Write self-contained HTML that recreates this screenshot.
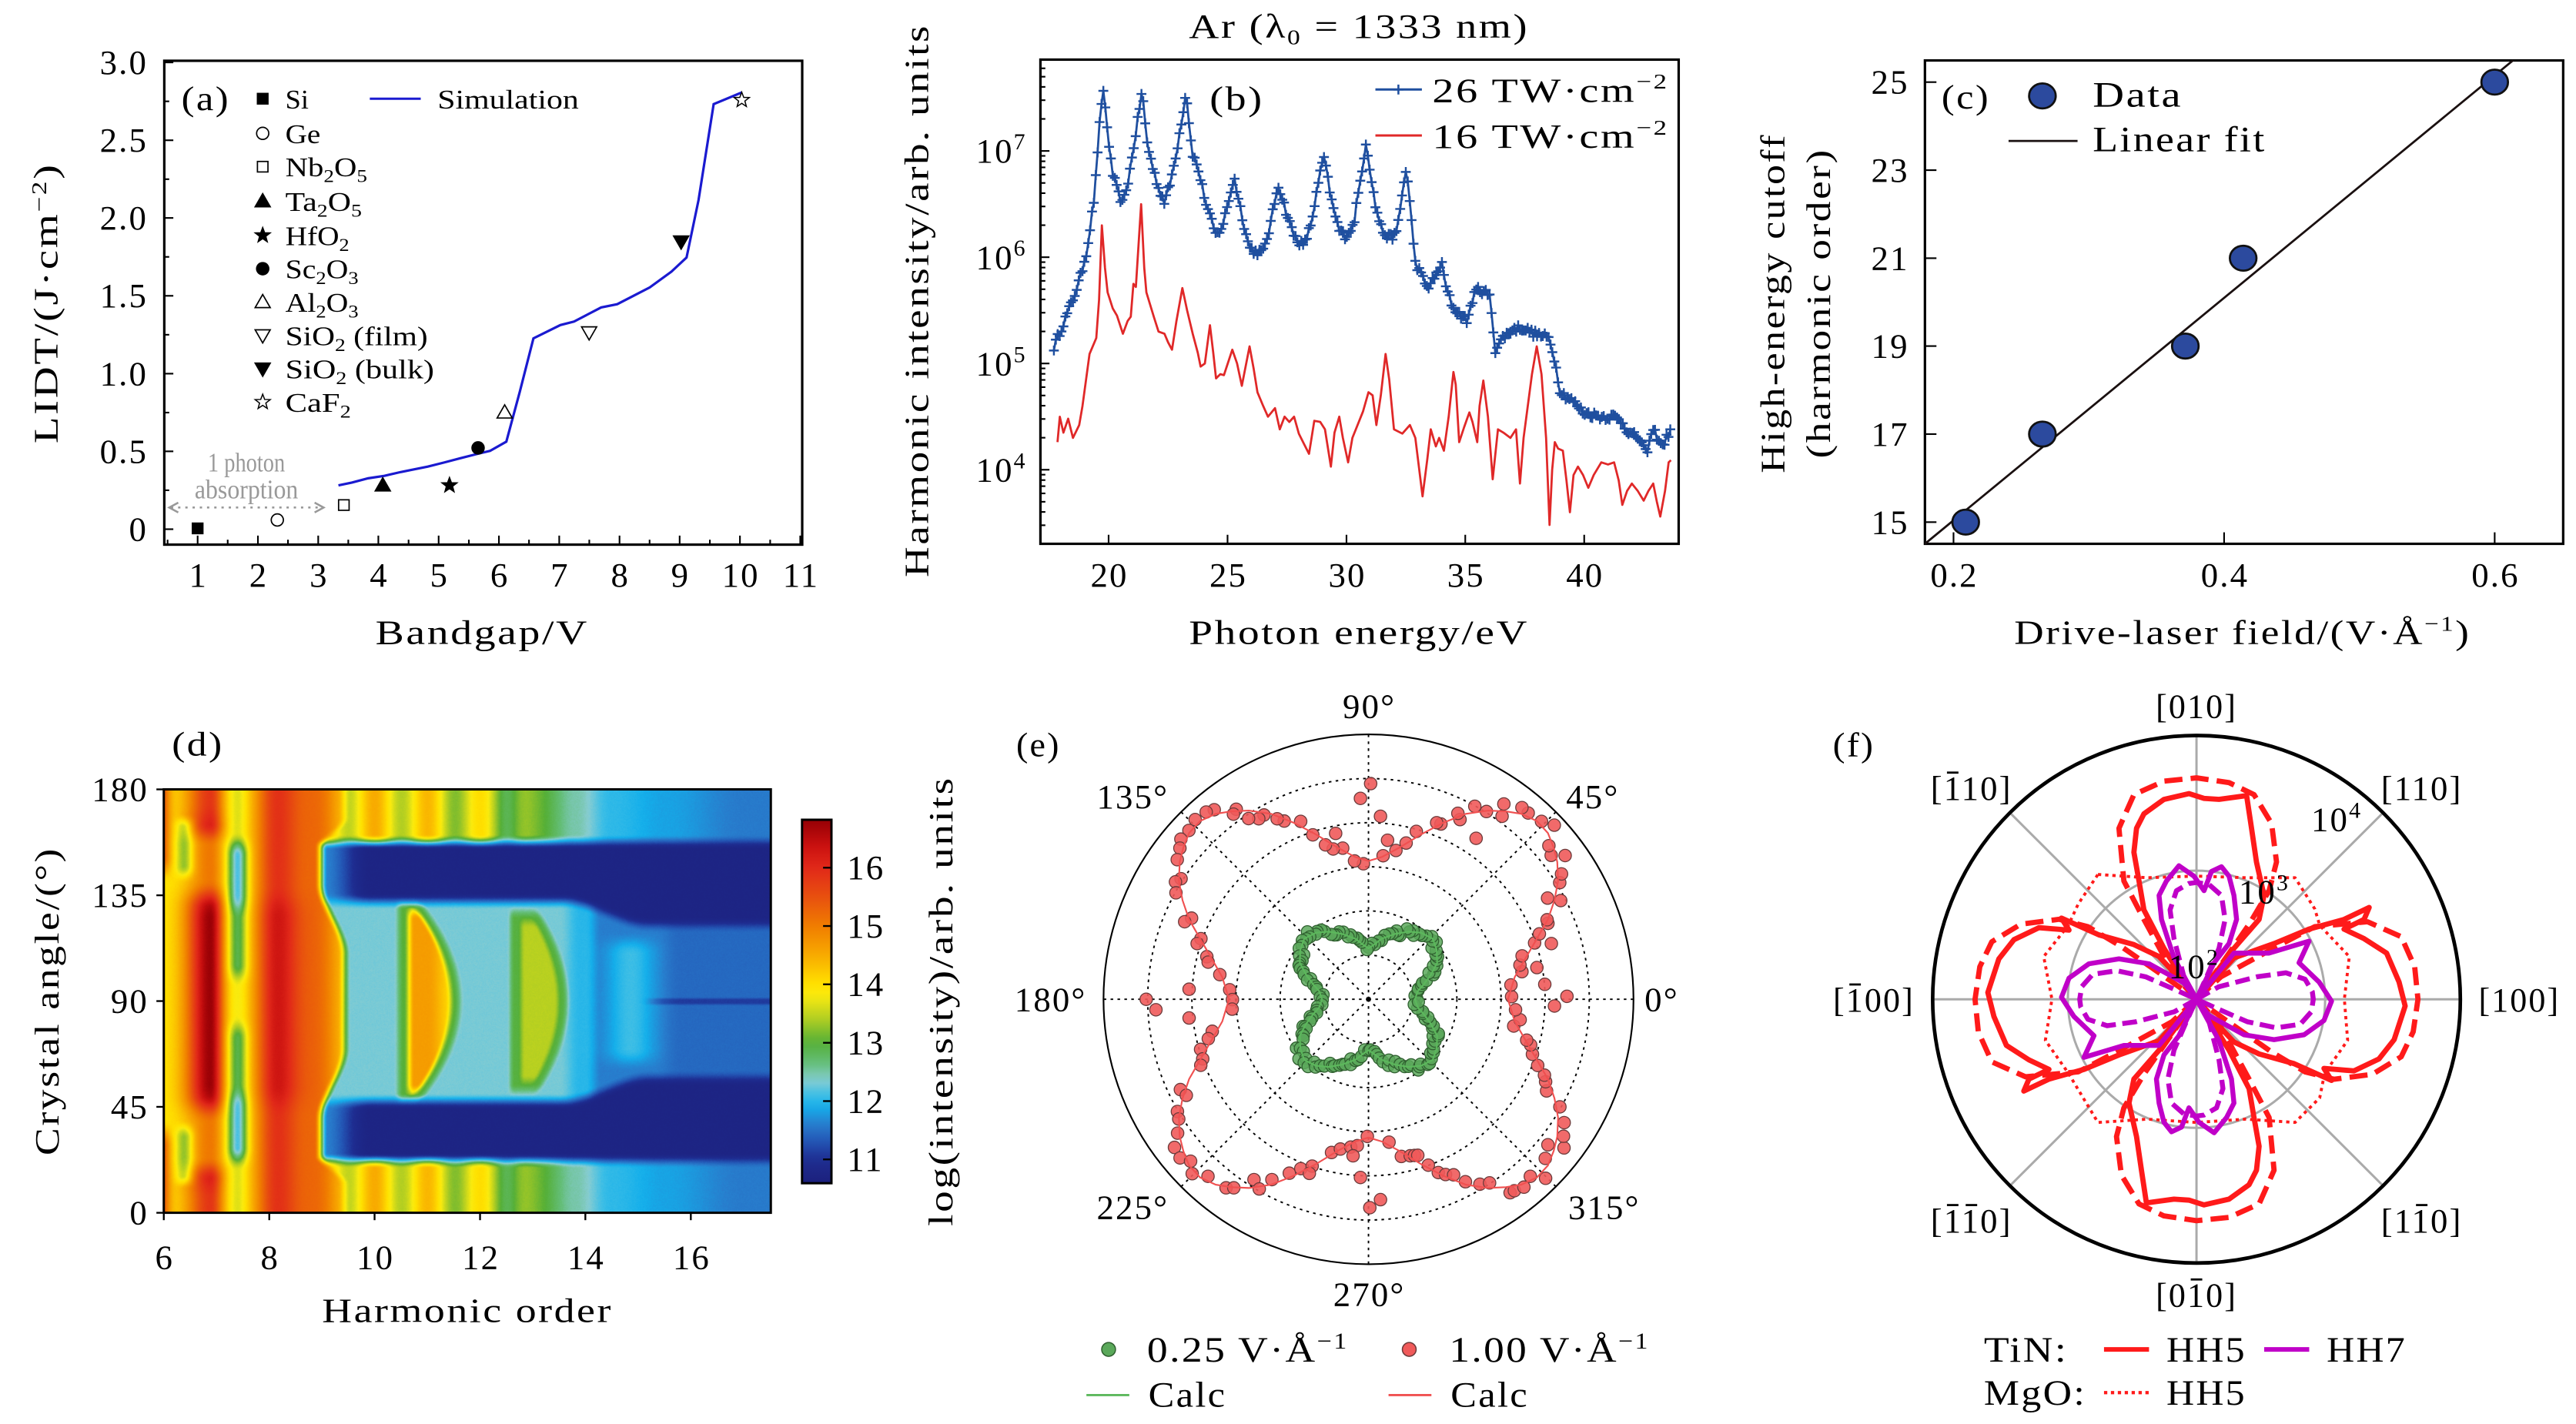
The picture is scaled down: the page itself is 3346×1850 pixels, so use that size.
<!DOCTYPE html>
<html><head><meta charset="utf-8"><style>
html,body{margin:0;padding:0;background:#fff;}
body{width:3346px;height:1850px;overflow:hidden;position:relative;}
svg text{font-family:"Liberation Serif","DejaVu Serif",serif;font-size:21px;letter-spacing:1px;fill:#000;}
svg .s15{font-size:16.5px;letter-spacing:0;}
svg .s20{font-size:21px;}
svg .s22{font-size:22px;}
</style></head><body>
<canvas id="hm" width="789" height="550" style="position:absolute;left:213px;top:1026px;width:788.5px;height:550px;"></canvas>
<svg id="sv" width="3346" height="1850" viewBox="0 0 1568 867" preserveAspectRatio="none" style="position:absolute;left:0;top:0;">
<defs><linearGradient id="cbg" x1="0" y1="0" x2="0" y2="1"></linearGradient></defs>

<!-- ========== Panel (a) ========== -->
<rect x="100" y="37" width="388.3" height="294.6" fill="none" stroke="#000" stroke-width="1.5"/>
<g text-anchor="end">
<text x="90" y="45">3.0</text><text x="90" y="92.4">2.5</text><text x="90" y="139.7">2.0</text>
<text x="90" y="187.1">1.5</text><text x="90" y="234.5">1.0</text><text x="90" y="281.8">0.5</text><text x="90" y="329.2">0</text>
</g>
<g text-anchor="middle">
<text x="120.8" y="357">1</text><text x="157.5" y="357">2</text><text x="194.2" y="357">3</text><text x="230.8" y="357">4</text>
<text x="267.5" y="357">5</text><text x="304.2" y="357">6</text><text x="340.9" y="357">7</text><text x="377.6" y="357">8</text>
<text x="414.2" y="357">9</text><text x="450.9" y="357">10</text><text x="487.6" y="357">11</text>
</g>
<text class="s20" x="293.5" y="392" text-anchor="middle" textLength="130" lengthAdjust="spacingAndGlyphs">Bandgap/V</text>
<text class="s20" transform="translate(35,184.5) rotate(-90)" text-anchor="middle" textLength="171" lengthAdjust="spacingAndGlyphs">LIDT/(J·cm<tspan dy="-7" font-size="13">−2</tspan><tspan dy="7">)</tspan></text>
<text x="110.4" y="67" textLength="29.7" lengthAdjust="spacingAndGlyphs">(a)</text>
<g>
<text class="s15" x="173.7" y="66" textLength="14.2" lengthAdjust="spacingAndGlyphs">Si</text>
<text class="s15" x="173.7" y="87.1" textLength="21.4" lengthAdjust="spacingAndGlyphs">Ge</text>
<text class="s15" x="173.7" y="107.4" textLength="49.8" lengthAdjust="spacingAndGlyphs">Nb<tspan font-size="11" dy="3.5">2</tspan><tspan dy="-3.5">O</tspan><tspan font-size="11" dy="3.5">5</tspan></text>
<text class="s15" x="173.7" y="128.4" textLength="46.5" lengthAdjust="spacingAndGlyphs">Ta<tspan font-size="11" dy="3.5">2</tspan><tspan dy="-3.5">O</tspan><tspan font-size="11" dy="3.5">5</tspan></text>
<text class="s15" x="173.7" y="149.2" textLength="38.9" lengthAdjust="spacingAndGlyphs">HfO<tspan font-size="11" dy="3.5">2</tspan></text>
<text class="s15" x="173.7" y="169.5" textLength="44.5" lengthAdjust="spacingAndGlyphs">Sc<tspan font-size="11" dy="3.5">2</tspan><tspan dy="-3.5">O</tspan><tspan font-size="11" dy="3.5">3</tspan></text>
<text class="s15" x="173.7" y="189.8" textLength="44.5" lengthAdjust="spacingAndGlyphs">Al<tspan font-size="11" dy="3.5">2</tspan><tspan dy="-3.5">O</tspan><tspan font-size="11" dy="3.5">3</tspan></text>
<text class="s15" x="173.7" y="210.1" textLength="86.7" lengthAdjust="spacingAndGlyphs">SiO<tspan font-size="11" dy="3.5">2</tspan><tspan dy="-3.5"> (film)</tspan></text>
<text class="s15" x="173.7" y="230.4" textLength="90.6" lengthAdjust="spacingAndGlyphs">SiO<tspan font-size="11" dy="3.5">2</tspan><tspan dy="-3.5"> (bulk)</tspan></text>
<text class="s15" x="173.7" y="250.7" textLength="39.9" lengthAdjust="spacingAndGlyphs">CaF<tspan font-size="11" dy="3.5">2</tspan></text>
<text class="s15" x="266.3" y="66" textLength="86" lengthAdjust="spacingAndGlyphs">Simulation</text>
</g>
<line x1="225.1" y1="60.1" x2="256.1" y2="60.1" stroke="#1a1ad0" stroke-width="1.4"/>
<text class="s15" x="150" y="287" text-anchor="middle" style="fill:#999" textLength="47" lengthAdjust="spacingAndGlyphs">1 photon</text>
<text class="s15" x="150" y="303.5" text-anchor="middle" style="fill:#999" textLength="63" lengthAdjust="spacingAndGlyphs">absorption</text>
<line x1="104" y1="309" x2="196" y2="309" stroke="#999" stroke-width="1.2" stroke-dasharray="1.4,3"/>
<polyline points="108.5,306 103,309 108.5,312" fill="none" stroke="#999" stroke-width="1.2"/>
<polyline points="191.5,306 197,309 191.5,312" fill="none" stroke="#999" stroke-width="1.2"/>

<!-- ========== Panel (b) ========== -->
<rect x="633.3" y="36.3" width="388.5" height="294.8" fill="none" stroke="#000" stroke-width="1.5"/>
<text class="s20" x="827.2" y="23" text-anchor="middle" textLength="207" lengthAdjust="spacingAndGlyphs">Ar (λ<tspan font-size="13" dy="4">0</tspan><tspan dy="-4"> = 1333 nm)</tspan></text>
<text class="s20" transform="translate(565,183) rotate(-90)" text-anchor="middle" textLength="337" lengthAdjust="spacingAndGlyphs">Harmonic intensity/arb. units</text>
<text class="s20" x="827.2" y="392" text-anchor="middle" textLength="207" lengthAdjust="spacingAndGlyphs">Photon energy/eV</text>
<g text-anchor="end">
<text x="625" y="99">10<tspan dy="-8" font-size="14">7</tspan></text>
<text x="625" y="163.7">10<tspan dy="-8" font-size="14">6</tspan></text>
<text x="625" y="228.4">10<tspan dy="-8" font-size="14">5</tspan></text>
<text x="625" y="293.1">10<tspan dy="-8" font-size="14">4</tspan></text>
</g>
<g text-anchor="middle">
<text x="675.3" y="357">20</text><text x="747.7" y="357">25</text><text x="820.1" y="357">30</text>
<text x="892.4" y="357">35</text><text x="964.8" y="357">40</text>
</g>
<text x="736.3" y="67" textLength="33" lengthAdjust="spacingAndGlyphs">(b)</text>
<line x1="837.2" y1="54.5" x2="865.5" y2="54.5" stroke="#1f4f9f" stroke-width="1.4"/>
<path d="M848.2,54.5h6M851.2,51.5v6" stroke="#1f4f9f" stroke-width="1.2"/>
<text class="s20" x="871.8" y="62" textLength="144" lengthAdjust="spacingAndGlyphs">26 TW·cm<tspan dy="-8" font-size="13">−2</tspan></text>
<line x1="837.2" y1="82.5" x2="865.5" y2="82.5" stroke="#e02828" stroke-width="1.4"/>
<text class="s20" x="871.8" y="90" textLength="144" lengthAdjust="spacingAndGlyphs">16 TW·cm<tspan dy="-8" font-size="13">−2</tspan></text>

<!-- ========== Panel (c) ========== -->
<rect x="1171.7" y="36.8" width="388.5" height="294.3" fill="none" stroke="#000" stroke-width="1.5"/>
<g text-anchor="end">
<text x="1162" y="57">25</text><text x="1162" y="110.6">23</text><text x="1162" y="164.2">21</text>
<text x="1162" y="217.7">19</text><text x="1162" y="271.3">17</text><text x="1162" y="324.9">15</text>
</g>
<g text-anchor="middle">
<text x="1189.6" y="357">0.2</text><text x="1354.3" y="357">0.4</text><text x="1519" y="357">0.6</text>
</g>
<text class="s20" x="1365" y="392" text-anchor="middle" textLength="278" lengthAdjust="spacingAndGlyphs">Drive-laser field/(V·Å<tspan dy="-8" font-size="13">−1</tspan><tspan dy="8">)</tspan></text>
<text class="s20" transform="translate(1086,184.6) rotate(-90)" text-anchor="middle" textLength="207" lengthAdjust="spacingAndGlyphs">High-energy cutoff</text>
<text class="s20" transform="translate(1114,184.6) rotate(-90)" text-anchor="middle" textLength="189" lengthAdjust="spacingAndGlyphs">(harmonic order)</text>
<line x1="1171.7" y1="331.1" x2="1529.6" y2="36.8" stroke="#1a1010" stroke-width="1.3"/>
<text x="1181.8" y="66" textLength="29.6" lengthAdjust="spacingAndGlyphs">(c)</text>
<text class="s22" x="1273.8" y="65" textLength="54.8" lengthAdjust="spacingAndGlyphs">Data</text>
<line x1="1222.6" y1="85.8" x2="1264.6" y2="85.8" stroke="#1a1010" stroke-width="1.3"/>
<text class="s22" x="1273.8" y="92" textLength="105.7" lengthAdjust="spacingAndGlyphs">Linear fit</text>

<!-- ========== Panel (d) ========== -->
<rect x="99.7" y="480.6" width="369.5" height="257.8" fill="none" stroke="#000" stroke-width="1.4"/>
<text x="104.6" y="460" textLength="31.6" lengthAdjust="spacingAndGlyphs">(d)</text>
<g text-anchor="end">
<text x="90.4" y="487.6">180</text><text x="90.4" y="552.1">135</text><text x="90.4" y="616.5">90</text>
<text x="90.4" y="681">45</text><text x="90.4" y="745.4">0</text>
</g>
<g text-anchor="middle">
<text x="100.2" y="772.5">6</text><text x="164.4" y="772.5">8</text><text x="228.5" y="772.5">10</text>
<text x="292.7" y="772.5">12</text><text x="356.8" y="772.5">14</text><text x="421" y="772.5">16</text>
</g>
<text class="s20" transform="translate(35.5,609.5) rotate(-90)" text-anchor="middle" textLength="188" lengthAdjust="spacingAndGlyphs">Crystal angle/(°)</text>
<text class="s20" x="284.5" y="804.8" text-anchor="middle" textLength="177" lengthAdjust="spacingAndGlyphs">Harmonic order</text>
<rect x="488.2" y="499.1" width="17.9" height="221.3" fill="url(#cbg)" stroke="#000" stroke-width="1.4"/>
<g>
<text x="515.6" y="535.3">16</text><text x="515.6" y="570.8">15</text><text x="515.6" y="606.3">14</text>
<text x="515.6" y="641.8">13</text><text x="515.6" y="677.4">12</text><text x="515.6" y="712.9">11</text>
</g>
<text class="s20" transform="translate(579.7,609.5) rotate(-90)" text-anchor="middle" textLength="274" lengthAdjust="spacingAndGlyphs">log(intensity)/arb. units</text>

<!-- ========== Panel (e) ========== -->
<text x="618.6" y="460.4" textLength="27" lengthAdjust="spacingAndGlyphs">(e)</text>
<g text-anchor="middle">
<text x="833.5" y="437">90°</text>
<text x="1011.5" y="615.5">0°</text>
<text x="639.5" y="615.5">180°</text>
<text x="833.5" y="795">270°</text>
<text x="969.5" y="492">45°</text>
<text x="689.5" y="492">135°</text>
<text x="689.5" y="742">225°</text>
<text x="976.5" y="742">315°</text>
</g>
<text class="s22" x="698.2" y="829" textLength="122.7" lengthAdjust="spacingAndGlyphs">0.25 V·Å<tspan dy="-8" font-size="14">−1</tspan></text>
<text class="s22" x="882.1" y="829" textLength="122.1" lengthAdjust="spacingAndGlyphs">1.00 V·Å<tspan dy="-8" font-size="14">−1</tspan></text>
<text class="s22" x="699" y="856.5" textLength="47.7" lengthAdjust="spacingAndGlyphs">Calc</text>
<text class="s22" x="883" y="856.5" textLength="47.7" lengthAdjust="spacingAndGlyphs">Calc</text>
<line x1="661.3" y1="849.4" x2="687.4" y2="849.4" stroke="#5cb85c" stroke-width="1.3"/>
<line x1="845.2" y1="849.4" x2="871.3" y2="849.4" stroke="#f05050" stroke-width="1.3"/>
<circle cx="674.8" cy="821.6" r="4.2" fill="#5aa85a" stroke="#2f5f2f" stroke-width="0.7"/>
<circle cx="857.8" cy="821.6" r="4.2" fill="#f05a5a" stroke="#6a3a3a" stroke-width="0.7"/>

<!-- ========== Panel (f) ========== -->
<text x="1115.6" y="460.4" textLength="25.6" lengthAdjust="spacingAndGlyphs">(f)</text>
<text class="s22" x="1207.6" y="829" textLength="51.2" lengthAdjust="spacingAndGlyphs">TiN:</text>
<text class="s22" x="1318.7" y="829" textLength="48.7" lengthAdjust="spacingAndGlyphs">HH5</text>
<text class="s22" x="1416.2" y="829" textLength="48.7" lengthAdjust="spacingAndGlyphs">HH7</text>
<text class="s22" x="1207.6" y="855.3" textLength="62.4" lengthAdjust="spacingAndGlyphs">MgO:</text>
<text class="s22" x="1318.7" y="855.3" textLength="48.7" lengthAdjust="spacingAndGlyphs">HH5</text>
<line x1="1280.7" y1="821.6" x2="1308.1" y2="821.6" stroke="#ff1a1a" stroke-width="2.8"/>
<line x1="1378.2" y1="821.6" x2="1405.6" y2="821.6" stroke="#c000c8" stroke-width="2.8"/>
<line x1="1280.7" y1="847.9" x2="1308.1" y2="847.9" stroke="#ff1a1a" stroke-width="2" stroke-dasharray="2,2.2"/>

<g id="dyn"></g>
</svg>
<script>
(function(){
var seed=12345;function rnd(){seed=(seed*16807)%2147483647;return seed/2147483647;}
function f(v){return (Math.round(v*10)/10).toString();}
function P(a){return a.map(function(p){return f(p[0])+','+f(p[1]);}).join(' ');}
function interp(K,x){if(x<=K[0][0])return K[0][1];for(var i=0;i<K.length-1;i++){if(x<=K[i+1][0]){var t=(x-K[i][0])/(K[i+1][0]-K[i][0]);return K[i][1]+t*(K[i+1][1]-K[i][1]);}}return K[K.length-1][1];}
function sm(x,lo,hi){var t=(x-lo)/(hi-lo);t=t<0?0:t>1?1:t;return t*t*(3-2*t);}
function gs1(x,m,s){var d=(x-m)/s;return Math.exp(-0.5*d*d);}
function mix(p,q,t){return p+(q-p)*t;}
var o='';
function line(x1,y1,x2,y2,c,w,extra){o+='<line x1="'+f(x1)+'" y1="'+f(y1)+'" x2="'+f(x2)+'" y2="'+f(y2)+'" stroke="'+c+'" stroke-width="'+w+'"'+(extra||'')+'/>';}

/* ---------- panel a ---------- */
for(var v=0.5;v<=11.001;v+=0.5){var x=120.3+(v-1)*36.68;if(x<101||x>487.5)continue;var maj=Math.abs(v-Math.round(v))<1e-6;line(x,331.6,x,331.6-(maj?5.5:3),'#000',1);}
for(var v=0;v<=3.001;v+=0.25){var y=322.2-v*94.73;var maj=Math.abs(v*2-Math.round(v*2))<1e-6;line(100,y,100+(maj?5.5:3),y,'#000',1);}
var sim=[[206.0,295.5],[214.2,293.8],[224.1,291.2],[234.0,289.7],[243.9,287.4],[250.5,286.1],[260.4,284.1],[270.3,281.6],[280.2,279.0],[290.0,276.5],[298.3,274.5],[308.2,268.9],[316.4,238.5],[324.7,206.0],[341.1,197.9],[349.4,195.8],[357.6,191.5],[365.9,187.2],[375.7,185.2],[385.6,180.1],[395.5,175.0],[408.7,165.4],[417.9,156.8],[425.2,121.8],[434.4,63.4],[451.5,56.3]];
o+='<polyline points="'+P(sim)+'" fill="none" stroke="#1a1ad0" stroke-width="1.5"/>';
function star(cx,cy,R){var p=[];for(var i=0;i<10;i++){var an=(-90+i*36)*Math.PI/180;var r=i%2?R*0.42:R;p.push([cx+r*Math.cos(an),cy+r*Math.sin(an)]);}return p;}
function mk(t,x,y){var s=3.6;
 if(t=='sqf')o+='<rect x="'+f(x-s)+'" y="'+f(y-s)+'" width="'+f(2*s)+'" height="'+f(2*s)+'" fill="#000"/>';
 if(t=='sqo')o+='<rect x="'+f(x-s+0.4)+'" y="'+f(y-s+0.4)+'" width="'+f(2*s-0.8)+'" height="'+f(2*s-0.8)+'" fill="#fff" stroke="#000" stroke-width="0.8"/>';
 if(t=='co')o+='<circle cx="'+f(x)+'" cy="'+f(y)+'" r="3.7" fill="#fff" stroke="#000" stroke-width="0.8"/>';
 if(t=='cf')o+='<circle cx="'+f(x)+'" cy="'+f(y)+'" r="4.1" fill="#000"/>';
 if(t=='tuf'||t=='tuo')o+='<polygon points="'+P([[x,y-4.6],[x-4.6,y+3.4],[x+4.6,y+3.4]])+'" fill="'+(t=='tuf'?'#000':'#fff')+'" stroke="#000" stroke-width="0.8"/>';
 if(t=='tdf'||t=='tdo')o+='<polygon points="'+P([[x,y+4.6],[x-4.6,y-3.4],[x+4.6,y-3.4]])+'" fill="'+(t=='tdf'?'#000':'#fff')+'" stroke="#000" stroke-width="0.8"/>';
 if(t=='stf'||t=='sto')o+='<polygon points="'+P(star(x,y,4.8))+'" fill="'+(t=='stf'?'#000':'#fff')+'" stroke="#000" stroke-width="0.7"/>';
}
var types=['sqf','co','sqo','tuf','stf','cf','tuo','tdo','tdf','sto'];
var ly=[60.1,81.2,101.5,122.5,143.3,163.6,183.9,204.2,224.5,244.8];
var dp=[[120.3,321.7],[168.8,316.6],[209.3,307.5],[233.0,295.5],[273.6,295.5],[291.0,272.7],[307.2,251.1],[358.6,202.4],[414.6,147.1],[451.5,60.9]];
for(var i=0;i<10;i++){mk(types[i],159.9,ly[i]);mk(types[i],dp[i][0],dp[i][1]);}

/* ---------- panel b ---------- */
function bx(En){return 674.8+(En-20)*14.4755;}function by(Lg){return 91.9+(7-Lg)*64.7;}
[20,25,30,35,40].forEach(function(En){line(bx(En),331.1,bx(En),325.6,'#000',1);});
for(var d=3;d<=7;d++){for(var k=1;k<=9;k++){var Lg=d+Math.log(k)/Math.LN10;if(Lg<3.32||Lg>7.84)continue;var y=by(Lg);line(633.3,y,633.3+(k==1?5.5:3),y,'#000',1);}}
var KB=[[17.7,5.15],[17.78,5.2],[18.1,5.38],[18.43,5.56],[18.8,5.8],[19.09,6.07],[19.41,6.58],[19.6,7.2],[19.78,7.58],[19.95,7.2],[20.15,6.8],[20.4,6.6],[20.6,6.5],[20.85,6.75],[21.1,7.1],[21.41,7.58],[21.6,7.1],[21.85,6.85],[22.1,6.65],[22.35,6.52],[22.6,6.7],[22.9,7.05],[23.26,7.56],[23.5,7.0],[23.8,6.8],[24.1,6.5],[24.52,6.2],[24.8,6.3],[25.28,6.75],[25.6,6.4],[25.9,6.1],[26.15,6.05],[26.5,6.05],[26.8,6.3],[27.13,6.69],[27.5,6.4],[27.8,6.2],[28.2,6.1],[28.5,6.3],[29.04,6.96],[29.4,6.5],[29.7,6.25],[29.96,6.2],[30.3,6.3],[30.83,7.09],[31.2,6.5],[31.5,6.25],[31.8,6.18],[32.1,6.22],[32.52,6.85],[32.9,5.95],[33.4,5.71],[33.7,5.8],[34.0,5.95],[34.2,5.7],[34.5,5.52],[35.07,5.4],[35.3,5.6],[35.5,5.7],[35.8,5.68],[36.04,5.62],[36.26,5.13],[36.6,5.25],[37.0,5.32],[37.35,5.34],[37.9,5.28],[38.5,5.24],[38.7,5.1],[39.0,4.73],[39.5,4.65],[39.96,4.54],[40.3,4.52],[40.7,4.5],[41.26,4.5],[41.6,4.45],[41.9,4.34],[42.3,4.3],[42.6,4.15],[42.9,4.38],[43.1,4.3],[43.3,4.22],[43.5,4.32],[43.65,4.38]];
var KR=[[17.85,4.26],[17.95,4.5],[18.1,4.35],[18.3,4.48],[18.5,4.3],[18.76,4.42],[18.9,4.6],[19.2,5.09],[19.48,5.24],[19.6,5.6],[19.72,6.3],[19.85,5.9],[19.96,5.67],[20.17,5.52],[20.35,5.45],[20.6,5.28],[20.8,5.4],[20.93,5.44],[21.04,5.75],[21.15,5.72],[21.37,6.5],[21.5,5.9],[21.59,5.67],[21.9,5.44],[22.1,5.3],[22.35,5.28],[22.5,5.2],[22.67,5.13],[22.85,5.4],[23.1,5.71],[23.3,5.5],[23.54,5.28],[23.75,5.1],[23.87,4.97],[24.05,5.0],[24.26,5.36],[24.4,5.1],[24.52,4.86],[24.7,4.9],[24.85,4.89],[25.2,5.13],[25.4,5.0],[25.6,4.79],[25.93,5.16],[26.1,4.95],[26.26,4.73],[26.5,4.6],[26.7,4.5],[27.0,4.58],[27.2,4.38],[27.4,4.5],[27.6,4.45],[27.8,4.5],[28.0,4.34],[28.2,4.25],[28.43,4.15],[28.65,4.46],[28.9,4.45],[29.1,4.38],[29.35,4.03],[29.5,4.35],[29.7,4.5],[29.85,4.3],[30.07,4.07],[30.25,4.3],[30.4,4.38],[30.7,4.55],[30.93,4.73],[31.1,4.7],[31.26,4.42],[31.45,4.7],[31.65,5.09],[31.8,4.85],[32.0,4.38],[32.35,4.34],[32.67,4.42],[32.9,4.3],[33.2,3.75],[33.4,4.1],[33.55,4.38],[33.76,4.22],[33.9,4.3],[34.1,4.18],[34.3,4.5],[34.5,4.92],[34.6,4.8],[34.74,4.26],[34.95,4.4],[35.17,4.54],[35.3,4.45],[35.5,4.26],[35.6,4.6],[35.76,4.84],[35.95,4.5],[36.15,3.91],[36.37,4.38],[36.6,4.35],[36.9,4.3],[37.13,4.38],[37.3,3.87],[37.45,4.3],[37.57,4.5],[37.8,4.9],[38.0,5.16],[38.2,4.9],[38.4,4.3],[38.54,3.48],[38.65,4.0],[38.76,4.26],[38.9,4.2],[39.1,4.18],[39.25,3.9],[39.4,3.6],[39.55,3.95],[39.74,4.03],[39.95,3.95],[40.17,3.83],[40.4,3.95],[40.72,4.07],[41.0,4.05],[41.26,4.07],[41.45,3.9],[41.6,3.67],[41.8,3.8],[42.0,3.87],[42.25,3.8],[42.5,3.71],[42.7,3.8],[42.9,3.87],[43.05,3.7],[43.2,3.56],[43.4,3.8],[43.55,4.07],[43.65,4.09]];
o+='<polyline points="'+P(KR.map(function(p){return [bx(p[0]),by(p[1])];}))+'" fill="none" stroke="#e02828" stroke-width="1.3" stroke-linejoin="round"/>';
var bp=[];for(var En=17.7;En<=43.66;En+=0.08){bp.push([bx(En),by(interp(KB,En)+(rnd()-0.5)*0.07)]);}
o+='<polyline points="'+P(bp)+'" fill="none" stroke="#1f4f9f" stroke-width="1.3"/>';
var pd='';bp.forEach(function(p){pd+='M'+f(p[0]-3)+','+f(p[1])+'h6M'+f(p[0])+','+f(p[1]-3)+'v6';});
o+='<path d="'+pd+'" stroke="#1f4f9f" stroke-width="1.15"/>';

/* ---------- panel c ---------- */
[0.2,0.4,0.6].forEach(function(v){var x=1189.1+(v-0.2)*823.5;line(x,331.1,x,324.1,'#000',1);});
for(var v=15;v<=25;v+=2){var y=50+(25-v)*26.79;line(1171.7,y,1178.7,y,'#000',1);}
[[0.209,15],[0.2657,17],[0.3713,19],[0.4141,21],[0.6,25]].forEach(function(p){o+='<ellipse cx="'+f(1189.1+(p[0]-0.2)*823.5)+'" cy="'+f(50+(25-p[1])*26.79)+'" rx="8.1" ry="7.6" fill="#2c4a9e" stroke="#111" stroke-width="1.3"/>';});
o+='<ellipse cx="1243.2" cy="58.4" rx="8.1" ry="7.6" fill="#2c4a9e" stroke="#111" stroke-width="1.3"/>';

/* ---------- panel d ---------- */
[0,45,90,135,180].forEach(function(an){var y=738.4-an/180*257.8;line(95.2,y,99.7,y,'#000',1.1);});
[6,8,10,12,14,16].forEach(function(hh){var x=99.7+(hh-6)*32.08;line(x,738.4,x,742.9,'#000',1.1);});
for(var v=11;v<=16;v++){var y=705.9-(v-11)*35.52;line(501,y,506.1,y,'#000',1.1);}
var CM=[[10.6,28,32,125],[11.0,30,45,145],[11.3,35,85,180],[11.6,40,125,205],[11.9,20,175,235],[12.1,60,190,230],[12.35,135,205,210],[12.65,100,190,120],[13.0,85,175,55],[13.4,175,205,35],[13.8,250,235,15],[14.0,255,225,0],[14.5,248,170,0],[15.0,240,125,0],[15.5,232,80,15],[16.0,225,40,25],[16.4,200,15,15],[16.8,150,0,5]];
function cmap(v){if(v<=CM[0][0])return [CM[0][1],CM[0][2],CM[0][3]];for(var i=0;i<CM.length-1;i++){if(v<=CM[i+1][0]){var t=(v-CM[i][0])/(CM[i+1][0]-CM[i][0]);return [CM[i][1]+t*(CM[i+1][1]-CM[i][1]),CM[i][2]+t*(CM[i+1][2]-CM[i][2]),CM[i][3]+t*(CM[i+1][3]-CM[i][3])];}}var l=CM[CM.length-1];return [l[1],l[2],l[3]];}
var gr=document.getElementById('cbg');var gst='';var ctop=16.82,cbot=10.59;
for(var i=0;i<=40;i++){var v=ctop-(ctop-cbot)*i/40;var c=cmap(v);gst+='<stop offset="'+(i/40).toFixed(3)+'" stop-color="rgb('+Math.round(c[0])+','+Math.round(c[1])+','+Math.round(c[2])+')"/>';}
gr.innerHTML=gst;
function edgeVal(h){
 var ev=14.0-0.12*sm(h,9.8,11)-0.35*sm(h,11,12)-0.4*sm(h,12,13)-0.65*sm(h,13,13.8)-0.45*sm(h,13.8,14.5)-0.2*sm(h,14.5,15.5)-0.25*sm(h,15.5,17);
 ev+=0.5*Math.cos(2*Math.PI*(h-11))*(1-sm(h,12.4,13.2));
 return ev;
}
function V(h,ang){
 var b=Math.abs(ang-90);
 var w1=1-0.5*sm(b,40,52)*(1-sm(b,66,76))-0.15*sm(b,72,85);
 var vd=0.3+0.9*sm(b,6,16)+0.7*sm(b,35,45)-1.5*sm(b,62,72);
 var dip=1.0*sm(b,50,58)*(1-sm(b,74,80));
 var core=1-sm(b,35,50);
 var d1=h-6.88;var g1=Math.exp(-0.5*Math.pow(d1/(d1<0?0.32:0.18),2));
 var d2=h-8.15;var g2=Math.exp(-0.5*Math.pow(d2/(d2<0?0.3:0.35),2));
 var Lv=13.95+(2.2+0.6*core)*w1*g1+(1.9+0.4*core)*g2+1.1*gs1(h,8.95,0.3)+1.5*gs1(h,5.95,0.12)*sm(b,50,62)-vd*gs1(h,7.4,0.13)-dip*gs1(h,6.4,0.12);
 var hb=9.35-0.45*sm(b,20,50)*(1-sm(b,66,78));
 var bg=12.3-0.3*sm(h,13.5,13.9)-0.4*sm(h,14.0,14.3)+0.5*gs1(h,14.85,0.3)*(1-sm(b,20,30))-0.15*sm(h,15.3,15.8)-0.35*(1-sm(b,0.5,2))*sm(h,15,15.5);
 var rb1=11.5-0.75*Math.pow(b/42,2);
 var out1=sm(h,10.35,10.55)*(1-sm(h,rb1,rb1+0.2))*(1-sm(b,39,46));
 var in1=sm(h,10.55,10.75)*(1-sm(h,rb1-0.16,rb1+0.02))*(1-sm(b,35,42));
 var Cv=mix(bg,13.0,out1);Cv=mix(Cv,14.65-0.55*sm(h,11.0,11.45),in1);
 var rb2=13.55-0.55*Math.pow(b/38,2);
 var out2=sm(h,12.5,12.65)*(1-sm(h,rb2,rb2+0.18))*(1-sm(b,35,41));
 var in2=sm(h,12.7,12.85)*(1-sm(h,rb2-0.15,rb2))*(1-sm(b,31,37));
 Cv=mix(Cv,12.95,out2);Cv=mix(Cv,13.45,in2);
 var Dv=10.75+0.9*(1-sm(h,hb+0.1,hb+1.0));
 var bc=42-10*sm(h,13.6,15.2);
 var Ov=mix(Cv,Dv,sm(b,bc-3,bc+4));
 Ov=mix(Ov,edgeVal(h),sm(b,64.5,71));
 return mix(Lv,Ov,sm(h,hb-0.05,hb+0.2));
}
var cv=document.getElementById('hm');if(cv&&cv.getContext){var ctx=cv.getContext('2d');var W=cv.width,H=cv.height;var img=ctx.createImageData(W,H);var dd=img.data;
 for(var j=0;j<H;j++){var ang=180-(j+0.5)/H*180;for(var i=0;i<W;i++){var hh=6+(i+0.5)/W*11.52;var c=cmap(V(hh,ang)+(rnd()-0.5)*0.06);var k=(j*W+i)*4;dd[k]=c[0];dd[k+1]=c[1];dd[k+2]=c[2];dd[k+3]=255;}}
 ctx.putImageData(img,0,0);}

/* ---------- panel e ---------- */
var ex=833,ey=608.4,ER=161.3;
for(var k=1;k<=5;k++){o+='<circle cx="'+ex+'" cy="'+ey+'" r="'+f(ER*k/6)+'" fill="none" stroke="#000" stroke-width="0.9" stroke-dasharray="1.6,2.6"/>';}
for(var k=0;k<8;k++){var an=k*Math.PI/4;line(ex,ey,ex+ER*Math.cos(an),ey-ER*Math.sin(an),'#000',0.9,' stroke-dasharray="1.6,2.6"');}
o+='<circle cx="'+ex+'" cy="'+ey+'" r="'+ER+'" fill="none" stroke="#000" stroke-width="1"/>';
o+='<circle cx="'+ex+'" cy="'+ey+'" r="1.4" fill="#000"/>';
function full(Q){var a1=Q.slice();var b1=Q.slice().reverse().map(function(p){return [-p[0],p[1]];});var c1=Q.map(function(p){return [-p[0],-p[1]];});var d1=Q.slice().reverse().map(function(p){return [p[0],-p[1]];});return a1.concat(b1.slice(1),c1.slice(1),d1.slice(1));}
var QR=[[84.9,0],[89.0,13.5],[95.7,25.2],[102.5,36.9],[109.2,48.6],[113.2,60.3],[115.4,72.0],[114.9,83.6],[112.7,92.4],[109.2,101.2],[102.5,108.5],[93.0,112.9],[83.6,114.4],[72.8,114.9],[59.3,112.9],[45.8,107.6],[32.4,100.6],[18.9,92.4],[8.1,86.6],[0,84.2]];
var QG=[[28.3,0],[30,5],[33.7,9.1],[38,15],[41.8,22.2],[41.5,30],[39.1,36.9],[32,40.5],[24.3,41.2],[16.2,39.8],[8.1,36.9],[3,33],[0,31]];
var FR=full(QR),FG=full(QG);
function toS(arr,cx,cy){return arr.map(function(p){return [cx+p[0],cy-p[1]];});}
function sample(pts,n){var cum=[0];for(var i=1;i<pts.length;i++){cum.push(cum[i-1]+Math.hypot(pts[i][0]-pts[i-1][0],pts[i][1]-pts[i-1][1]));}var T=cum[cum.length-1];var r=[];var s=1;for(var k=0;k<n;k++){var t=(k+rnd()*0.6)/n*T;while(s<cum.length-1&&cum[s]<t)s++;var u=(t-cum[s-1])/(cum[s]-cum[s-1]);r.push([pts[s-1][0]+u*(pts[s][0]-pts[s-1][0]),pts[s-1][1]+u*(pts[s][1]-pts[s-1][1])]);}return r;}
var gpts=sample(FG,150),rpts=sample(FR,135);
gpts.forEach(function(p){var s=1+(rnd()-0.5)*0.12;o+='<circle cx="'+f(ex+p[0]*s)+'" cy="'+f(ey-p[1]*s)+'" r="3.7" fill="#5aa85a" fill-opacity="0.85" stroke="#2f5f2f" stroke-width="0.6"/>';});
o+='<polygon points="'+P(toS(FG,ex,ey))+'" fill="none" stroke="#5cb85c" stroke-width="1"/>';
var outl=[[1.3,131.3],[-4.9,122.3],[7.3,111.4],[11.6,96.8],[120.8,1.8],[113.2,-4.1],[107.3,9.1],[102.5,19.3],[111.3,33.9],[-135.3,0],[-129.4,-6.4],[-109.2,6.1],[-109.2,-11.4],[0.8,-126.9],[7.3,-122],[-4.9,-108.5],[-9.4,-95.3],[65.5,98],[-36,-106],[-73,110],[-20,101],[30,-95]];
rpts.forEach(function(p){if(rnd()<0.08)return;var s=1+(rnd()-0.5)*0.09;o+='<circle cx="'+f(ex+p[0]*s)+'" cy="'+f(ey-p[1]*s)+'" r="3.8" fill="#f05a5a" fill-opacity="0.9" stroke="#6a3a3a" stroke-width="0.6"/>';});
outl.forEach(function(p){o+='<circle cx="'+f(ex+p[0])+'" cy="'+f(ey-p[1])+'" r="3.8" fill="#f05a5a" fill-opacity="0.9" stroke="#6a3a3a" stroke-width="0.6"/>';});
o+='<polygon points="'+P(toS(FR,ex,ey))+'" fill="none" stroke="#f05050" stroke-width="1"/>';

/* ---------- panel f ---------- */
var fx=1337,fy=608.4,FRr=160.6;
for(var k=0;k<8;k++){var an=k*Math.PI/4;line(fx,fy,fx+FRr*Math.cos(an),fy-FRr*Math.sin(an),'#aaa',1.4);}
o+='<circle cx="'+fx+'" cy="'+fy+'" r="78.3" fill="none" stroke="#aaa" stroke-width="1.4"/>';
o+='<circle cx="'+fx+'" cy="'+fy+'" r="'+FRr+'" fill="none" stroke="#000" stroke-width="2.2"/>';
function r180(A){return A.map(function(p){return [-p[0],-p[1]];});}
function rcw(A){return A.map(function(p){return [p[1],-p[0]];});}
function poly(A,c,w,da){o+='<polygon points="'+P(toS(A,fx,fy))+'" fill="none" stroke="'+c+'" stroke-width="'+w+'" stroke-linejoin="round"'+(da?' stroke-dasharray="'+da+'"':'')+'/>';}
var mgo=[[-60,76],[-30,74],[0,75],[30,74],[60,74],[72,55],[75,45],[93,26],[90,0],[92,-25],[78,-45],[75,-60],[60,-75],[30,-73],[0,-75],[-30,-73],[-60,-75],[-72,-55],[-78,-45],[-92,-25],[-88,0],[-93,26],[-78,45],[-72,58]];
poly(mgo,'#ff1a1a',1.8,'2,2.4');
var RDt=[[0,0],[-13.7,14.9],[-32.0,48.6],[-44.2,72.0],[-47.2,104.1],[-38.1,124.6],[-19.8,132.8],[0,134.8],[19.8,131.9],[35.0,124.6],[45.7,107.0],[48.7,83.6],[44.2,66.1],[32.0,45.6],[13.7,19.3]];
var RDr=rcw(RDt);
[RDt,RDr,r180(RDt),r180(RDr)].forEach(function(A){poly(A,'#ff1a1a',3.2,'11,5');});
var RSt=[[0,0],[7.6,10.5],[22.8,31.0],[38.1,48.6],[41.1,63.2],[36.5,83.6],[33.5,104.1],[30.5,124.0],[13.7,121.7],[4.6,122.3],[-4.6,125.2],[-19.8,121.7],[-32.0,112.9],[-36.5,104.1],[-38.1,89.5],[-35.0,72.0],[-32.0,54.4],[-19.8,31.0],[-9.1,13.5]];
var RSr=[[0,0],[22.8,25.2],[47.2,33.9],[68.5,42.7],[89.8,48.6],[105.1,55.9],[102.0,48.6],[89.8,42.7],[102.0,36.9],[115.7,28.1],[123.3,10.5],[127.0,-4.1],[120.3,-24.6],[111.1,-36.3],[95.9,-43.6],[77.6,-42.1],[82.2,-49.4],[59.4,-39.2],[38.1,-33.3],[22.8,-26.0],[7.6,-9.9]];
[RSt,RSr,r180(RSt),r180(RSr)].forEach(function(A){poly(A,'#ff1a1a',3.2);});
var PDt=[[0,0],[-7.6,13.5],[-13.7,36.9],[-16.1,54.4],[-12.2,66.1],[-4.6,70.5],[0,71.1],[7.6,69.9],[15.2,63.2],[17.4,48.6],[13.7,31.0],[6.1,13.5]];
var PDr=rcw(PDt);
[PDt,PDr,r180(PDt),r180(PDr)].forEach(function(A){poly(A,'#c000c8',3,'9,4');});
var PSt=[[0,0],[-13.7,25.2],[-21.3,48.6],[-22.8,63.2],[-18.3,72.0],[-10.7,81.3],[-1.5,74.9],[4.6,66.1],[9.1,77.8],[15.2,80.7],[19.8,74.9],[22.8,63.2],[24.4,48.6],[19.8,33.9],[10.7,22.2]];
var PSr=[[0,0],[22.8,28.1],[44.2,28.1],[68.5,35.4],[62.4,22.2],[74.6,10.5],[82.2,-1.2],[77.6,-12.9],[65.5,-21.6],[47.2,-24.6],[28.9,-21.6],[7.6,-9.9]];
[PSt,PSr,r180(PSt),r180(PSr)].forEach(function(A){poly(A,'#c000c8',3);});
o+='<text x="1335.5" y="595.5" text-anchor="middle">10<tspan dy="-8" font-size="14">2</tspan></text>';
o+='<text x="1378.2" y="550" text-anchor="middle">10<tspan dy="-8" font-size="14">3</tspan></text>';
o+='<text x="1422.3" y="506" text-anchor="middle">10<tspan dy="-8" font-size="14">4</tspan></text>';
function lab(t,cx,cy,bars){var W=49.6,x0=cx-W/2,yb=cy+7.5;o+='<text x="'+f(cx)+'" y="'+f(yb)+'" text-anchor="middle" textLength="'+W+'" lengthAdjust="spacingAndGlyphs">['+t+']</text>';bars.forEach(function(k){var c=x0+W*(0.333+0.5*k+0.25)/2.166;line(c-3.5,yb-16.5,c+3.5,yb-16.5,'#000',1.3);});}
lab('010',1337,429.6,[]);
lab('010',1337,788,[1]);
lab('100',1533.5,608.4,[]);
lab('100',1140.6,608.4,[0]);
lab('110',1474.1,479.4,[]);
lab('110',1200,479.4,[0]);
lab('110',1200,742.7,[0,1]);
lab('110',1474.1,742.7,[1]);

document.getElementById('dyn').innerHTML=o;
})();
</script>
</body></html>
